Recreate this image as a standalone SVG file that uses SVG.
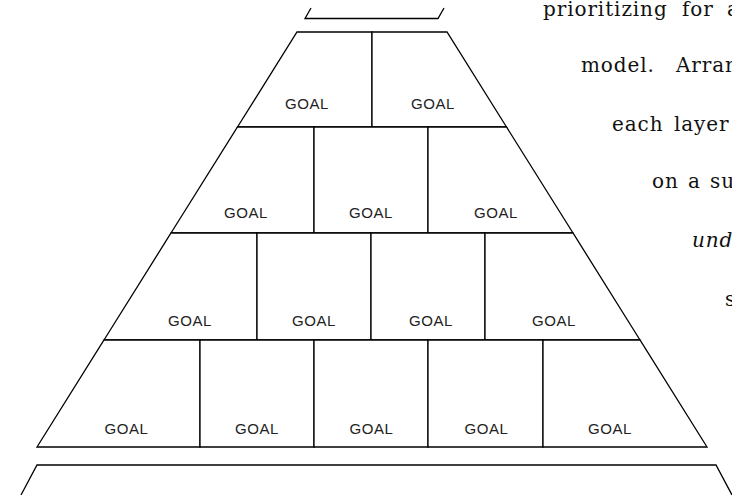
<svg xmlns="http://www.w3.org/2000/svg" width="732" height="495" viewBox="0 0 732 495">
  <style>
    .cell { fill: #ffffff; stroke: #000000; stroke-width: 1.3; stroke-linejoin: miter; }
    .edge { fill: none; stroke: #000000; stroke-width: 1.3; }
    .goal { font-family: "Liberation Sans", Arial, sans-serif; font-size: 15px; letter-spacing: 0.6px; fill: #222222; text-anchor: middle; }
    .prose { font-family: "DejaVu Serif", "Liberation Serif", serif; font-size: 20px; letter-spacing: 0.9px; fill: #111111; }
  </style>
  <rect width="732" height="495" fill="#ffffff"/>

  <!-- partial shapes above and below the pyramid -->
  <g id="upper-block">
    <polyline class="edge" points="311,8 305,18.5 438,18.5 444,8"/>
  </g>
  <g id="base-block">
    <polyline class="edge" points="21,495 37,465 716,465 732,495"/>
  </g>

  <!-- row 1 -->
  <g id="goal-1-1">
    <polygon class="cell" points="297,32 372,32 372,127 237.5,127"/>
    <text class="goal" x="307" y="109">GOAL</text>
  </g>
  <g id="goal-1-2">
    <polygon class="cell" points="372,32 447,32 506.5,127 372,127"/>
    <text class="goal" x="433" y="109">GOAL</text>
  </g>

  <!-- row 2 -->
  <g id="goal-2-1">
    <polygon class="cell" points="237.5,127 314,127 314,233 171,233"/>
    <text class="goal" x="246" y="218">GOAL</text>
  </g>
  <g id="goal-2-2">
    <polygon class="cell" points="314,127 428,127 428,233 314,233"/>
    <text class="goal" x="371" y="218">GOAL</text>
  </g>
  <g id="goal-2-3">
    <polygon class="cell" points="428,127 506.5,127 573,233 428,233"/>
    <text class="goal" x="496" y="218">GOAL</text>
  </g>

  <!-- row 3 -->
  <g id="goal-3-1">
    <polygon class="cell" points="171,233 257,233 257,340 104,340"/>
    <text class="goal" x="190" y="326">GOAL</text>
  </g>
  <g id="goal-3-2">
    <polygon class="cell" points="257,233 371,233 371,340 257,340"/>
    <text class="goal" x="314" y="326">GOAL</text>
  </g>
  <g id="goal-3-3">
    <polygon class="cell" points="371,233 485,233 485,340 371,340"/>
    <text class="goal" x="431" y="326">GOAL</text>
  </g>
  <g id="goal-3-4">
    <polygon class="cell" points="485,233 573,233 640,340 485,340"/>
    <text class="goal" x="554" y="326">GOAL</text>
  </g>

  <!-- row 4 -->
  <g id="goal-4-1">
    <polygon class="cell" points="104,340 200,340 200,447 37,447"/>
    <text class="goal" x="126.5" y="434">GOAL</text>
  </g>
  <g id="goal-4-2">
    <polygon class="cell" points="200,340 314,340 314,447 200,447"/>
    <text class="goal" x="257" y="434">GOAL</text>
  </g>
  <g id="goal-4-3">
    <polygon class="cell" points="314,340 428,340 428,447 314,447"/>
    <text class="goal" x="371.5" y="434">GOAL</text>
  </g>
  <g id="goal-4-4">
    <polygon class="cell" points="428,340 543,340 543,447 428,447"/>
    <text class="goal" x="486.5" y="434">GOAL</text>
  </g>
  <g id="goal-4-5">
    <polygon class="cell" points="543,340 640,340 707,447 543,447"/>
    <text class="goal" x="610" y="434">GOAL</text>
  </g>

  <!-- running text beside the pyramid, wrapped along its right slope -->
  <g id="side-text" class="prose">
    <text y="16"><tspan x="543">prioritizing</tspan><tspan x="682">for</tspan><tspan x="727">a</tspan></text>
    <text y="72"><tspan x="581">model.</tspan><tspan x="676">Arran</tspan></text>
    <text y="131"><tspan x="612">each</tspan><tspan x="674">layer</tspan></text>
    <text y="188"><tspan x="652">on</tspan><tspan x="688">a</tspan><tspan x="710">su</tspan></text>
    <text y="247" font-style="italic"><tspan x="692">und</tspan></text>
    <text y="306"><tspan x="725">s</tspan></text>
  </g>
</svg>
